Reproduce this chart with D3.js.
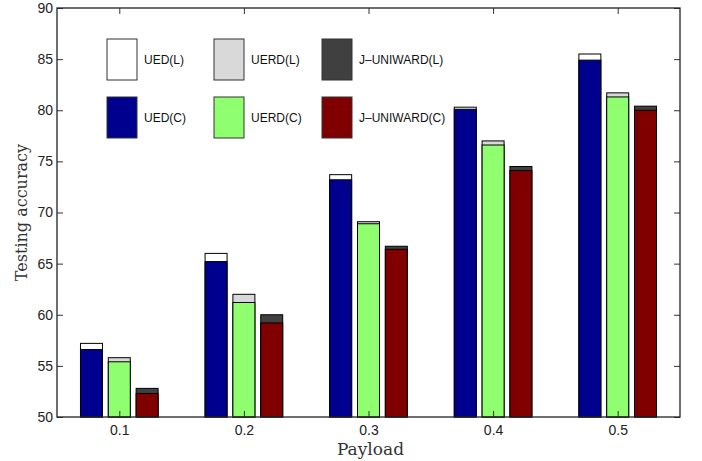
<!DOCTYPE html>
<html>
<head>
<meta charset="utf-8">
<script src="https://cdn.jsdelivr.net/npm/d3@7"></script>
<style>
  body { margin: 0; background: #fff; }
  .tick text { font-family: "Liberation Sans", Arial, sans-serif; font-size: 14px; fill: #222; }
  .axis-label { font-family: "DejaVu Serif", "Liberation Serif", serif; font-size: 16px; fill: #333; }
  .legend text { font-family: "Liberation Sans", Arial, sans-serif; font-size: 12px; fill: #111; }
</style>
</head>
<body>
<div id="chart"></div>
<script>
const payloads = ["0.1", "0.2", "0.3", "0.4", "0.5"];
const methods = ["UED", "UERD", "J-UNIWARD"];

// (C) values, per method across payloads
const uedC = [56.6, 65.2, 73.2, 80.1, 84.9];
const uerdC = [55.4, 61.2, 68.9, 76.6, 81.3];
const juniC = [52.3, 59.2, 66.4, 74.1, 80.0];
// (L) values
const uedL = [57.2, 66.0, 73.7, 80.3, 85.5];
const uerdL = [55.8, 62.0, 69.1, 77.0, 81.7];
const juniL = [52.8, 60.0, 66.7, 74.5, 80.4];

const yTicks = [50, 55, 60, 65, 70, 75, 80, 85, 90];

const colorsC = ["#00008f", "#8fff6f", "#800000"];
const colorsL = ["#ffffff", "#d9d9d9", "#404040"];

const width = 702, height = 461;
const margin = { top: 8, right: 22, bottom: 44, left: 57 };

const svg = d3.select("#chart").append("svg")
    .attr("width", width)
    .attr("height", height);

const x0 = d3.scaleBand()
    .domain(payloads)
    .range([margin.left, width - margin.right])
    .padding(0);

const groupW = x0.bandwidth() * 0.67;
const x1 = d3.scaleBand()
    .domain(methods)
    .range([-groupW / 2, groupW / 2])
    .paddingInner(0.21)
    .paddingOuter(0.105);

const y = d3.scaleLinear()
    .domain([50, 90])
    .range([height - margin.bottom, margin.top]);

const rows = payloads.map((p, i) => ({
    payload: p,
    bars: [
        { m: "UED", c: uedC[i], l: uedL[i], k: 0 },
        { m: "UERD", c: uerdC[i], l: uerdL[i], k: 1 },
        { m: "J-UNIWARD", c: juniC[i], l: juniL[i], k: 2 }
    ]
}));

const groups = svg.append("g").selectAll("g")
    .data(rows)
    .join("g")
    .attr("transform", d => `translate(${x0(d.payload) + x0.bandwidth() / 2},0)`);

// (L) bar behind
groups.selectAll("rect.l")
    .data(d => d.bars)
    .join("rect")
    .attr("class", "l")
    .attr("x", d => x1(d.m))
    .attr("width", x1.bandwidth())
    .attr("y", d => y(d.l))
    .attr("height", d => y(50) - y(d.l))
    .attr("fill", d => colorsL[d.k])
    .attr("stroke", "#000")
    .attr("stroke-width", 1);

// (C) bar in front
groups.selectAll("rect.c")
    .data(d => d.bars)
    .join("rect")
    .attr("class", "c")
    .attr("x", d => x1(d.m))
    .attr("width", x1.bandwidth())
    .attr("y", d => y(d.c))
    .attr("height", d => y(50) - y(d.c))
    .attr("fill", d => colorsC[d.k])
    .attr("stroke", "#000")
    .attr("stroke-width", 1);

// axes, ticks pointing inward like matlab
const tickLen = 6;
const xCenter = d3.scaleOrdinal().domain(payloads).range(payloads.map(p => x0(p) + x0.bandwidth() / 2));

svg.append("g")
    .attr("transform", `translate(0,${y(50)})`)
    .call(d3.axisBottom(xCenter).tickSizeInner(-tickLen).tickSizeOuter(0).tickPadding(8))
    .call(g => g.select(".domain").remove());

svg.append("g")
    .attr("transform", `translate(0,${y(90)})`)
    .call(d3.axisTop(xCenter).tickSizeInner(-tickLen).tickSizeOuter(0).tickFormat(""))
    .call(g => g.select(".domain").remove());

svg.append("g")
    .attr("transform", `translate(${margin.left},0)`)
    .call(d3.axisLeft(y).tickValues(yTicks).tickSizeInner(-tickLen).tickSizeOuter(0).tickPadding(4))
    .call(g => g.select(".domain").remove());

svg.append("g")
    .attr("transform", `translate(${width - margin.right},0)`)
    .call(d3.axisRight(y).tickValues(yTicks).tickSizeInner(-tickLen).tickSizeOuter(0).tickFormat(""))
    .call(g => g.select(".domain").remove());

svg.selectAll(".tick line").attr("stroke", "#333");

// frame box
svg.append("rect")
    .attr("x", margin.left)
    .attr("y", margin.top)
    .attr("width", width - margin.left - margin.right)
    .attr("height", y(50) - margin.top)
    .attr("fill", "none")
    .attr("stroke", "#222")
    .attr("stroke-width", 1.3);

svg.append("text")
    .attr("class", "axis-label")
    .attr("x", (margin.left + width - margin.right) / 2 + 2)
    .attr("y", height - 6)
    .attr("text-anchor", "middle")
    .style("font-size", "17px")
    .text("Payload");

svg.append("text")
    .attr("class", "axis-label")
    .attr("transform", `translate(27,${(margin.top + y(50)) / 2}) rotate(-90)`)
    .attr("text-anchor", "middle")
    .text("Testing accuracy");

// legend: two rows, three columns
const legendItems = [];
methods.forEach((m, k) => {
    legendItems.push({ label: m.replace("-", "\u2013") + "(L)", fill: colorsL[k], row: 0, col: k });
    legendItems.push({ label: m.replace("-", "\u2013") + "(C)", fill: colorsC[k], row: 1, col: k });
});
const colX = [107, 214, 322];
const rowY = [39, 97];

const legend = svg.append("g").attr("class", "legend");
const li = legend.selectAll("g")
    .data(legendItems)
    .join("g")
    .attr("transform", d => `translate(${colX[d.col]},${rowY[d.row]})`);

li.append("rect")
    .attr("width", 30)
    .attr("height", 41)
    .attr("fill", d => d.fill)
    .attr("stroke", "#333")
    .attr("stroke-width", 1);

li.append("text")
    .attr("x", 37)
    .attr("y", 21)
    .attr("dy", "0.35em")
    .text(d => d.label);
</script>
</body>
</html>
